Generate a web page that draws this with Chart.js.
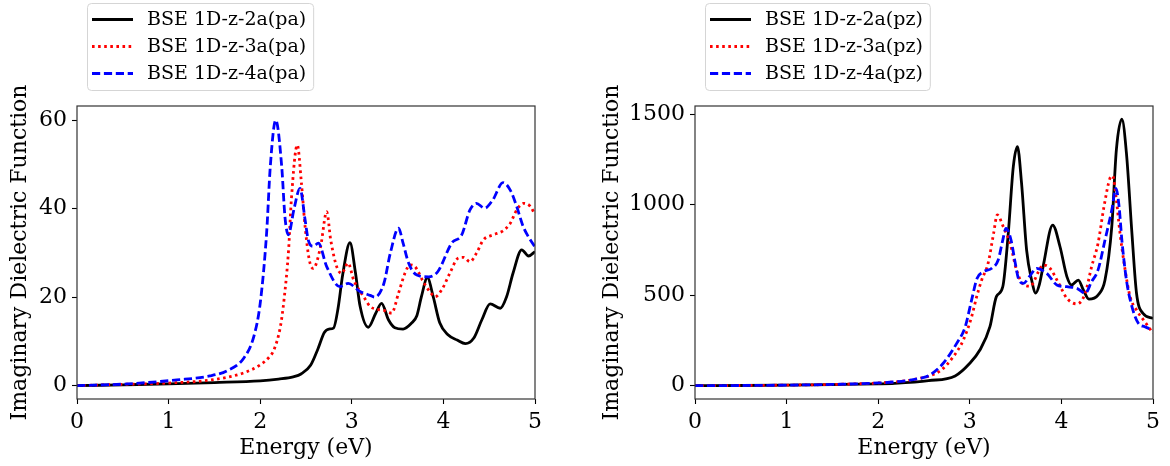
<!DOCTYPE html>
<html>
<head>
<meta charset="utf-8">
<script src="https://cdn.jsdelivr.net/npm/chart.js@4/dist/chart.umd.min.js"></script>
<style>
  html, body { margin: 0; padding: 0; background: #fff; }
  #wrap { position: relative; width: 1170px; height: 466px; }
  canvas { position: absolute; top: 0; }
</style>
</head>
<body>
<div id="wrap">
  <canvas id="paChart" width="585" height="466" style="left:0"></canvas>
  <canvas id="pzChart" width="585" height="466" style="left:585px"></canvas>
</div>
<script>
// ---- data: energy (eV) and Im(eps) for each BSE run ----
const energyTicks = [0, 1, 2, 3, 4, 5];
const paTicks = [0, 20, 40, 60];
const pzTicks = [0, 500, 1000, 1500];

const paLabels = ['BSE 1D-z-2a(pa)', 'BSE 1D-z-3a(pa)', 'BSE 1D-z-4a(pa)'];
const pzLabels = ['BSE 1D-z-2a(pz)', 'BSE 1D-z-3a(pz)', 'BSE 1D-z-4a(pz)'];

const energyPa2 = [0, 0.5, 1.0, 1.5, 2.0, 2.2, 2.36, 2.45, 2.55, 2.63, 2.7, 2.75, 2.8, 2.85, 2.9, 2.98, 3.04, 3.09, 3.18, 3.26, 3.325, 3.4, 3.47, 3.56, 3.65, 3.71, 3.76, 3.825, 3.89, 3.96, 4.05, 4.15, 4.24, 4.33, 4.42, 4.51, 4.62, 4.69, 4.76, 4.855, 4.93, 5.0];
const epsPa2 = [0, 0.2, 0.4, 0.7, 1.1, 1.5, 2.0, 2.7, 4.6, 8.3, 12.0, 12.8, 13.0, 17.5, 25.0, 32.3, 25.5, 18.0, 13.2, 16.3, 18.6, 14.9, 13.1, 12.8, 14.1, 15.8, 20.1, 24.4, 20.0, 14.2, 11.5, 10.3, 9.5, 10.7, 14.9, 18.5, 17.5, 20.1, 25.4, 30.7, 29.3, 30.3];

const energyPa3 = [0, 0.5, 1.0, 1.5, 1.82, 2.0, 2.1, 2.15, 2.22, 2.26, 2.31, 2.34, 2.405, 2.45, 2.49, 2.536, 2.58, 2.66, 2.726, 2.77, 2.835, 2.89, 2.96, 3.02, 3.13, 3.2, 3.27, 3.35, 3.435, 3.51, 3.58, 3.635, 3.69, 3.78, 3.85, 3.91, 3.98, 4.07, 4.16, 4.22, 4.29, 4.36, 4.435, 4.545, 4.65, 4.73, 4.8, 4.875, 4.95, 5.0];
const epsPa3 = [0, 0.3, 0.6, 1.4, 2.9, 4.7, 6.5, 8.1, 13.3, 19.4, 30.7, 42.0, 54.4, 45.8, 36.0, 28.4, 26.5, 31.5, 39.3, 32.9, 26.9, 25.4, 27.7, 23.9, 20.1, 17.9, 17.3, 17.0, 16.4, 20.9, 25.4, 27.3, 26.9, 23.5, 21.3, 20.1, 21.6, 25.4, 28.8, 29.0, 28.0, 29.9, 32.9, 34.1, 35.0, 36.7, 39.7, 41.2, 40.5, 38.6];

const energyPa4 = [0, 0.55, 1.09, 1.45, 1.64, 1.82, 1.93, 2.0, 2.07, 2.11, 2.17, 2.235, 2.27, 2.307, 2.37, 2.434, 2.49, 2.525, 2.58, 2.635, 2.726, 2.87, 2.96, 3.09, 3.2, 3.25, 3.35, 3.42, 3.51, 3.56, 3.62, 3.71, 3.84, 3.94, 4.09, 4.2, 4.29, 4.36, 4.45, 4.54, 4.65, 4.73, 4.8, 4.87, 4.95, 5.0];
const epsPa4 = [0, 0.4, 1.3, 2.2, 3.4, 6.2, 11.1, 18.6, 34.5, 49.5, 60.0, 49.5, 38.2, 34.1, 40.0, 44.6, 37.5, 32.9, 31.5, 32.2, 26.9, 22.4, 23.1, 21.3, 20.4, 20.0, 23.1, 29.9, 35.6, 32.2, 27.7, 25.0, 24.6, 25.8, 32.2, 34.1, 39.7, 41.2, 40.1, 42.0, 45.9, 44.2, 40.5, 36.0, 32.9, 31.4];

const energyPz2 = [0, 0.5, 1.0, 1.5, 2.0, 2.18, 2.55, 2.84, 3.0, 3.11, 3.22, 3.29, 3.36, 3.42, 3.475, 3.52, 3.565, 3.62, 3.675, 3.72, 3.76, 3.80, 3.905, 3.985, 4.06, 4.11, 4.185, 4.24, 4.30, 4.40, 4.476, 4.55, 4.60, 4.66, 4.71, 4.77, 4.82, 4.89, 5.0];
const epsPz2 = [0, 1, 3, 6, 10, 13, 28, 54, 124, 197, 326, 492, 547, 842, 1211, 1321, 1119, 750, 584, 512, 560, 658, 888, 768, 603, 557, 584, 529, 479, 501, 584, 879, 1303, 1473, 1285, 842, 511, 400, 372];

const energyPz3 = [0, 0.5, 1.0, 1.5, 2.0, 2.3, 2.456, 2.55, 2.69, 2.82, 2.93, 3.02, 3.075, 3.13, 3.2, 3.26, 3.3, 3.365, 3.44, 3.51, 3.585, 3.66, 3.75, 3.80, 3.875, 3.97, 4.06, 4.17, 4.26, 4.33, 4.4, 4.465, 4.53, 4.56, 4.6, 4.64, 4.69, 4.75, 4.82, 4.91, 5.0];
const epsPz3 = [0, 1, 3, 7, 15, 27, 41, 52, 87, 160, 253, 381, 492, 584, 677, 842, 944, 879, 787, 640, 560, 550, 630, 667, 649, 566, 483, 452, 511, 658, 787, 990, 1146, 1159, 1027, 842, 658, 492, 418, 354, 290];

const energyPz4 = [0, 0.5, 1.0, 1.5, 2.0, 2.3, 2.456, 2.55, 2.71, 2.857, 2.95, 3.02, 3.08, 3.15, 3.24, 3.31, 3.36, 3.395, 3.45, 3.49, 3.53, 3.585, 3.66, 3.73, 3.84, 3.95, 4.06, 4.17, 4.26, 4.33, 4.40, 4.476, 4.55, 4.595, 4.63, 4.66, 4.71, 4.77, 4.84, 4.91, 5.0];
const epsPz4 = [0, 1, 3, 7, 15, 27, 41, 55, 124, 234, 326, 474, 594, 630, 649, 695, 805, 870, 805, 695, 594, 566, 610, 649, 621, 557, 547, 538, 511, 575, 640, 805, 971, 1090, 990, 805, 584, 437, 345, 326, 308];

const SERIF = "'DejaVu Serif', serif";
const LW = 2.8;

const toPoints = (xs, ys) => xs.map((x, i) => ({ x: x, y: ys[i] }));

// black solid / red dotted / blue dashed, blue drawn on top
function makeDatasets(labels, series) {
    const styles = [
        { color: '#000000', dash: [], order: 3 },
        { color: '#ff0000', dash: [2.6, 3.5], order: 2 },
        { color: '#0000ff', dash: [8.2, 3.7], order: 1 }
    ];
    return series.map((s, i) => ({
        label: labels[i],
        data: toPoints(s[0], s[1]),
        borderColor: styles[i].color,
        borderDash: styles[i].dash,
        borderWidth: LW,
        order: styles[i].order,
        pointRadius: 0,
        cubicInterpolationMode: 'monotone',
        fill: false
    }));
}

// axes frame on all four sides
const framePlugin = {
    id: 'frame',
    afterDraw(chart) {
        const { ctx, chartArea: a } = chart;
        ctx.save();
        ctx.strokeStyle = '#333';
        ctx.lineWidth = 1.2;
        ctx.strokeRect(a.left, a.top, a.right - a.left, a.bottom - a.top);
        ctx.restore();
    }
};

// legend box above the axes, matplotlib style
const boxLegend = {
    id: 'boxLegend',
    afterDraw(chart) {
        const { ctx, chartArea: a } = chart;
        const sets = chart.data.datasets;
        ctx.save();
        ctx.font = '19px ' + SERIF;
        const textW = Math.max(...sets.map(d => ctx.measureText(d.label).width));
        const left = a.left + 10, top = 3;
        const w = 60 + textW + 7, h = 87;
        ctx.beginPath();
        ctx.roundRect(left + 0.5, top + 0.5, w, h, 4);
        ctx.fillStyle = 'rgba(255,255,255,0.8)';
        ctx.fill();
        ctx.strokeStyle = '#d5d5d5';
        ctx.lineWidth = 1;
        ctx.stroke();
        sets.forEach((d, i) => {
            const y = top + 16.5 + i * 27;
            ctx.beginPath();
            ctx.setLineDash(d.borderDash);
            ctx.strokeStyle = d.borderColor;
            ctx.lineWidth = d.borderWidth;
            ctx.moveTo(left + 5, y);
            ctx.lineTo(left + 46, y);
            ctx.stroke();
            ctx.setLineDash([]);
            ctx.fillStyle = '#000';
            ctx.textBaseline = 'middle';
            ctx.textAlign = 'left';
            ctx.fillText(d.label, left + 60, y + 1);
        });
        ctx.restore();
    }
};

function makeChart(id, datasets, yTicks, yMin, yMax, yAxisW, padRight, yTitlePad) {
    return new Chart(document.getElementById(id), {
        type: 'line',
        data: { datasets: datasets },
        options: {
            responsive: false,
            devicePixelRatio: 1,
            animation: false,
            layout: { padding: { top: 106, right: padRight, left: 0, bottom: 0 } },
            plugins: { legend: { display: false }, tooltip: { enabled: false } },
            scales: {
                x: {
                    type: 'linear',
                    min: 0,
                    max: 5,
                    afterBuildTicks: s => { s.ticks = energyTicks.map(v => ({ value: v })); },
                    afterFit: s => { s.height = 67; },
                    grid: { drawOnChartArea: false, tickLength: 5, tickColor: '#000', tickWidth: 1.1 },
                    border: { display: false },
                    ticks: { color: '#000', padding: 5, maxRotation: 0, autoSkip: false, callback: v => String(v), font: { family: SERIF, size: 22 } },
                    title: { display: true, text: 'Energy (eV)', color: '#000', padding: { bottom: 5 }, font: { family: SERIF, size: 22 } }
                },
                y: {
                    type: 'linear',
                    min: yMin,
                    max: yMax,
                    afterBuildTicks: s => { s.ticks = yTicks.map(v => ({ value: v })); },
                    afterFit: s => { s.width = yAxisW; },
                    grid: { drawOnChartArea: false, tickLength: 5, tickColor: '#000', tickWidth: 1.1 },
                    border: { display: false },
                    ticks: { color: '#000', padding: 5, callback: v => String(v), font: { family: SERIF, size: 22 } },
                    title: { display: true, text: 'Imaginary Dielectric Function', color: '#000', padding: { top: yTitlePad }, font: { family: SERIF, size: 22 } }
                }
            }
        },
        plugins: [framePlugin, boxLegend]
    });
}

makeChart('paChart',
    makeDatasets(paLabels, [[energyPa2, epsPa2], [energyPa3, epsPa3], [energyPa4, epsPa4]]),
    paTicks, -3.01, 63.2, 77, 50, 7);

makeChart('pzChart',
    makeDatasets(pzLabels, [[energyPz2, epsPz2], [energyPz3, epsPz3], [energyPz4, epsPz4]]),
    pzTicks, -73.6, 1546, 110, 17, 14);
</script>
</body>
</html>
